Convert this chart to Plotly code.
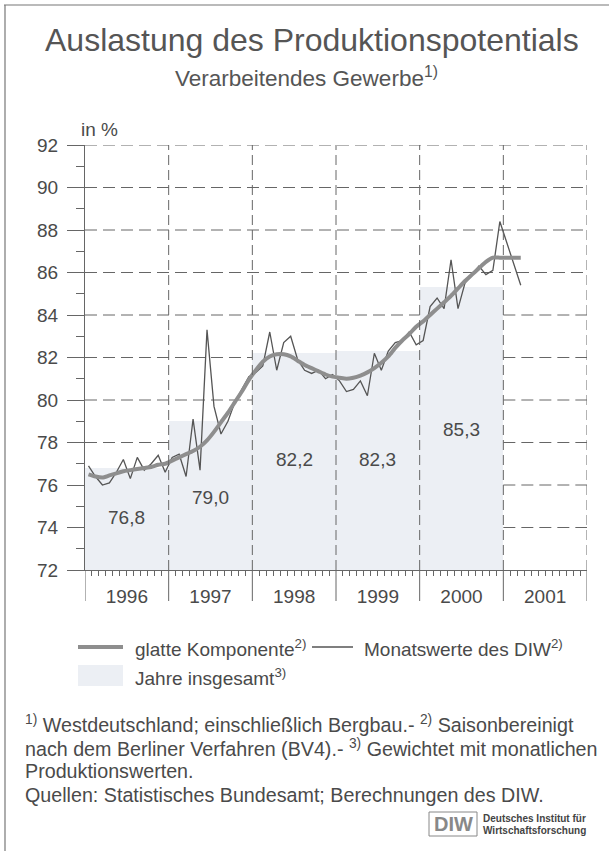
import plotly.graph_objects as go

# ---------------- data ----------------
years = [1996, 1997, 1998, 1999, 2000]
annual_values = [76.8, 79.0, 82.2, 82.3, 85.3]
axis_years = [1996, 1997, 1998, 1999, 2000, 2001]

# monthly values (Monatswerte des DIW), Jan 1996 .. Mar 2001
monthly_1996 = [76.9, 76.4, 76.0, 76.1, 76.6, 77.2, 76.3, 77.3, 76.7, 77.0, 77.4, 76.6]
monthly_1997 = [77.3, 77.45, 76.4, 79.1, 76.7, 83.3, 79.7, 78.4, 79.0, 79.9, 80.5, 81.1]
monthly_1998 = [81.3, 81.6, 83.2, 81.4, 82.7, 83.0, 81.9, 81.4, 81.25, 81.4, 81.0, 81.2]
monthly_1999 = [80.9, 80.4, 80.5, 80.9, 80.2, 82.2, 81.4, 82.3, 82.7, 82.8, 83.2, 82.6]
monthly_2000 = [82.8, 84.4, 84.8, 84.3, 86.6, 84.3, 85.5, 85.9, 86.3, 85.9, 86.1, 88.4]
monthly_2001 = [87.4, 86.4, 85.4]

# smooth component (glatte Komponente), Jan 1996 .. Mar 2001
smooth_1996 = [76.5, 76.4, 76.35, 76.45, 76.55, 76.65, 76.7, 76.75, 76.8, 76.85, 76.95, 77.0]
smooth_1997 = [77.15, 77.3, 77.45, 77.6, 77.8, 78.1, 78.5, 78.95, 79.4, 79.9, 80.4, 80.95]
smooth_1998 = [81.4, 81.8, 82.05, 82.15, 82.15, 82.05, 81.85, 81.65, 81.5, 81.35, 81.2, 81.1]
smooth_1999 = [81.05, 81.0, 81.05, 81.15, 81.3, 81.5, 81.75, 82.05, 82.45, 82.8, 83.1, 83.45]
smooth_2000 = [83.7, 84.0, 84.3, 84.6, 84.9, 85.25, 85.6, 85.9, 86.2, 86.5, 86.7, 86.7]
smooth_2001 = [86.7, 86.7, 86.7]

y_ticks = [72, 74, 76, 78, 80, 82, 84, 86, 88, 90, 92]

# ---------------- helpers ----------------
monthly_blocks = [(1996, monthly_1996), (1997, monthly_1997), (1998, monthly_1998),
                  (1999, monthly_1999), (2000, monthly_2000), (2001, monthly_2001)]
smooth_blocks = [(1996, smooth_1996), (1997, smooth_1997), (1998, smooth_1998),
                 (1999, smooth_1999), (2000, smooth_2000), (2001, smooth_2001)]


def to_series(blocks):
    xs, ys = [], []
    for yr, vals in blocks:
        for m, v in enumerate(vals):
            xs.append(yr + (m + 0.5) / 12.0)
            ys.append(v)
    return xs, ys


mx, my = to_series(monthly_blocks)
sx, sy = to_series(smooth_blocks)

W_FIG, H_FIG = 609, 851
L, R, T, B = 85, 587, 145, 570
PW, PH = R - L, B - T


def px(x):
    return (x - L) / PW


def py(y):
    return (B - y) / PH


TXT = "#4a4a4a"
GRID = "#666666"
FONT = "Liberation Sans, Arial, Helvetica, sans-serif"
X0, X1 = axis_years[0], axis_years[-1] + 1
bar_top = dict(zip(years, annual_values))

fig = go.Figure()

# annual bars
fig.add_trace(go.Bar(
    x=[y + 0.5 for y in years], y=annual_values, width=1.0,
    marker=dict(color="#eceff4", line=dict(width=0), opacity=1),
    hoverinfo="skip", showlegend=False,
))

# monthly values
fig.add_trace(go.Scatter(
    x=mx, y=my, mode="lines",
    line=dict(color="#555555", width=1.3),
    showlegend=False,
))

# smooth component
fig.add_trace(go.Scatter(
    x=sx, y=sy, mode="lines",
    line=dict(color="#8e8e8e", width=4, shape="spline", smoothing=0.6),
    showlegend=False,
))

shapes = []
# horizontal dashed grid: only where no annual bar covers it
for v in y_ticks[1:]:
    seg_start = None
    for yr in axis_years + [None]:
        visible = yr is not None and bar_top.get(yr, -1) < v
        if visible and seg_start is None:
            seg_start = yr
        if not visible and seg_start is not None:
            seg_end = yr if yr is not None else X1
            shapes.append(dict(type="line", xref="x", yref="y", x0=seg_start, x1=seg_end,
                               y0=v, y1=v,
                               line=dict(color=GRID, width=1, dash="12px,6px"),
                               layer="below"))
            seg_start = None
# year boundaries: dashed above bars within plot, solid extensions below axis
for yb in axis_years[1:] + [X1]:
    shapes.append(dict(type="line", xref="x", yref="y", x0=yb, x1=yb, y0=72, y1=92,
                       line=dict(color=GRID, width=1, dash="10px,5px"), layer="above"))
for yb in axis_years + [X1]:
    shapes.append(dict(type="line", xref="x", yref="paper", x0=yb, x1=yb,
                       y0=py(570), y1=py(601),
                       line=dict(color=GRID, width=1), layer="above"))

# frame lines (top & left)
shapes.append(dict(type="line", xref="paper", yref="paper", x0=px(4), x1=px(609),
                   y0=py(5), y1=py(5), line=dict(color="#777", width=1.2)))
shapes.append(dict(type="line", xref="paper", yref="paper", x0=px(5), x1=px(5),
                   y0=py(5), y1=py(851), line=dict(color="#777", width=1.2)))

# legend symbols
shapes.append(dict(type="line", xref="paper", yref="paper", x0=px(78), x1=px(123),
                   y0=py(647), y1=py(647), line=dict(color="#8e8e8e", width=4)))
shapes.append(dict(type="line", xref="paper", yref="paper", x0=px(312), x1=px(353),
                   y0=py(647), y1=py(647), line=dict(color="#555555", width=1.5)))
shapes.append(dict(type="rect", xref="paper", yref="paper", x0=px(78), x1=px(123),
                   y0=py(665), y1=py(686), fillcolor="#eceff4", line=dict(width=0)))

# DIW logo box
shapes.append(dict(type="rect", xref="paper", yref="paper", x0=px(429), x1=px(477),
                   y0=py(812), y1=py(836), fillcolor="white",
                   line=dict(color="#888", width=1)))

annotations = []


def ann(x, y, text, size, xanchor="left", color=TXT, **kw):
    annotations.append(dict(x=px(x), y=py(y), xref="paper", yref="paper", text=text,
                            showarrow=False, xanchor=xanchor, yanchor="middle",
                            font=dict(family=FONT, size=size, color=color), **kw))


ann(312, 40, "Auslastung des Produktionspotentials", 32, xanchor="center", color="#555")
ann(306, 77, "Verarbeitendes Gewerbe<sup>1)</sup>", 22.5, xanchor="center", color="#555")
ann(79, 130, "in %", 19)

# bar labels
label_y = [74.45, 75.4, 77.2, 77.2, 78.6]
for yr, v, ly in zip(years, annual_values, label_y):
    annotations.append(dict(x=yr + 0.5, y=ly, xref="x", yref="y",
                            text=f"{v:.1f}".replace(".", ","), showarrow=False,
                            font=dict(family=FONT, size=19, color=TXT)))

# legend texts
ann(133, 648, "glatte Komponente<sup>2)</sup>", 19)
ann(362, 648, "Monatswerte des DIW<sup>2)</sup>", 19)
ann(133, 677, "Jahre insgesamt<sup>3)</sup>", 19)

# footnotes
FN = 19.7
ann(23, 724, "<sup>1)</sup> Westdeutschland; einschließlich Bergbau.- <sup>2)</sup> Saisonbereinigt", FN)
ann(23, 748, "nach dem Berliner Verfahren (BV4).- <sup>3)</sup> Gewichtet mit monatlichen", FN)
ann(23, 771, "Produktionswerten.", FN)
ann(23, 795, "Quellen: Statistisches Bundesamt; Berechnungen des DIW.", FN)

# logo
ann(453, 824, "<b>DIW</b>", 20, xanchor="center", color="#888")
ann(481, 818, "<b>Deutsches Institut für</b>", 10, color="#444")
ann(481, 830, "<b>Wirtschaftsforschung</b>", 10, color="#444")

fig.update_layout(
    width=W_FIG, height=H_FIG,
    margin=dict(l=L, r=W_FIG - R, t=T, b=H_FIG - B, pad=0),
    paper_bgcolor="white", plot_bgcolor="white",
    shapes=shapes, annotations=annotations,
    showlegend=False, bargap=0,
    font=dict(family=FONT, color=TXT),
    xaxis=dict(
        range=[X0, X1],
        tickmode="array",
        tickvals=[y + 0.5 for y in axis_years],
        ticktext=[str(y) for y in axis_years],
        ticks="outside", ticklen=9, tickcolor="rgba(0,0,0,0)",
        tickfont=dict(size=19, color=TXT, family=FONT),
        showgrid=False, zeroline=False,
        showline=True, linecolor=GRID, linewidth=1.2,
        minor=dict(ticks="outside", ticklen=5, tickcolor=GRID, tickwidth=1,
                   tickmode="array",
                   tickvals=[y + m / 12.0 for y in axis_years for m in range(1, 12)],
                   showgrid=False),
        fixedrange=True,
    ),
    yaxis=dict(
        range=[72, 92],
        tickmode="array", tickvals=y_ticks, ticktext=[str(v) for v in y_ticks],
        ticks="outside", ticklen=17, tickcolor=GRID, tickwidth=1,
        ticklabelstandoff=5,
        tickfont=dict(size=19, color=TXT, family=FONT),
        showgrid=False,
        zeroline=False, showline=True, linecolor=GRID, linewidth=1.2,
        minor=dict(ticks="outside", ticklen=8, tickcolor=GRID, tickwidth=1,
                   tickmode="array", tickvals=[v + 1 for v in y_ticks[:-1]],
                   showgrid=False),
        fixedrange=True,
    ),
)

fig.write_html(
    "out.html",
    config={"displayModeBar": False},
    post_script="document.body.style.margin='0';document.body.style.padding='0';",
)
